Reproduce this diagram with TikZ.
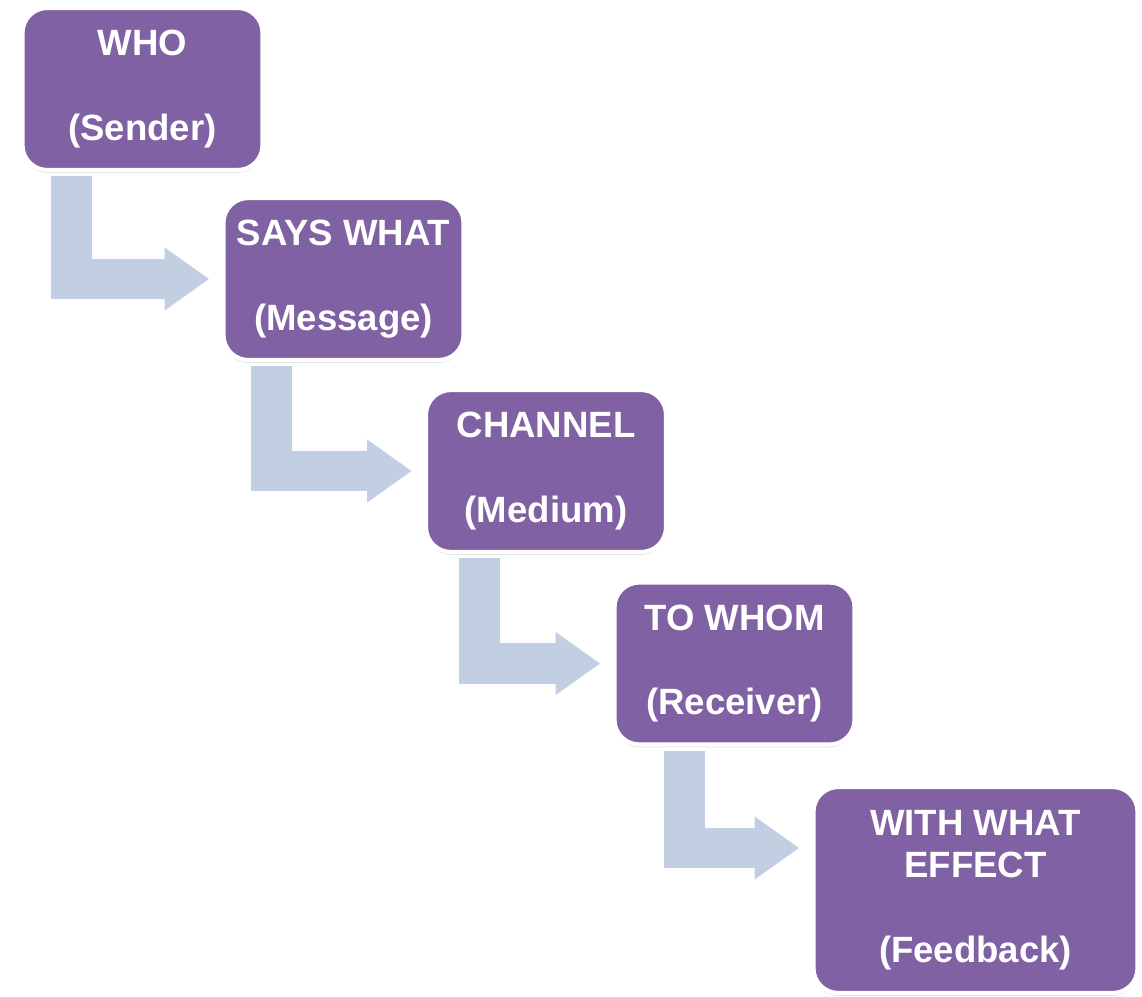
\documentclass[tikz,border=0pt]{standalone}
\usepackage{fontspec}
\setmainfont{Liberation Sans}
\usepackage{xcolor}
\usepackage{tikz}
\usetikzlibrary{arrows.meta, shadows}
\definecolor{stagefill}{RGB}{128,97,163}
\definecolor{flowblue}{RGB}{194,206,226}
\tikzset{
  stage/.style={draw=white, line width=3pt, fill=stagefill, rounded corners=0.62cm,
                text=white, font=\fontsize{26}{30}\selectfont\bfseries, align=center,
                minimum width=6cm, minimum height=4.05cm, inner sep=2pt,
                drop shadow={shadow xshift=0pt, shadow yshift=-2pt, opacity=0.25}},
  flow/.style={-{Triangle[length=1.12cm, width=1.5cm]}, line width=1.02cm, flowblue}
}

\begin{document}
\begin{tikzpicture}[x=0.025cm, y=-0.025cm]
  \useasboundingbox (0,0) rectangle (1142,997);
  \node[stage] (who) at (142.5,89) {WHO\\[\baselineskip](Sender)};
  \node[stage] (says) at (343.5,279) {SAYS WHAT\\[\baselineskip](Message)};
  \node[stage] (chan) at (546,471) {CHANNEL\\[\baselineskip](Medium)};
  \node[stage] (whom) at (734.5,663.5) {TO WHOM\\[\baselineskip](Receiver)};
  \node[stage, minimum width=8.1cm, minimum height=5.15cm] (eff) at (975.5,890)
     {WITH WHAT\\EFFECT\\[\baselineskip](Feedback)};
  \foreach \a/\b/\dx/\dy in {who/says/1.28cm/0cm, says/chan/1.25cm/0cm,
                            chan/whom/1.4cm/0cm, whom/eff/1.8cm/1.05cm}
    \draw[flow] ([xshift=\dx, yshift=-3pt]\a.south west) |- ([xshift=-0.3cm, yshift=\dy]\b.west);
\end{tikzpicture}
\end{document}
